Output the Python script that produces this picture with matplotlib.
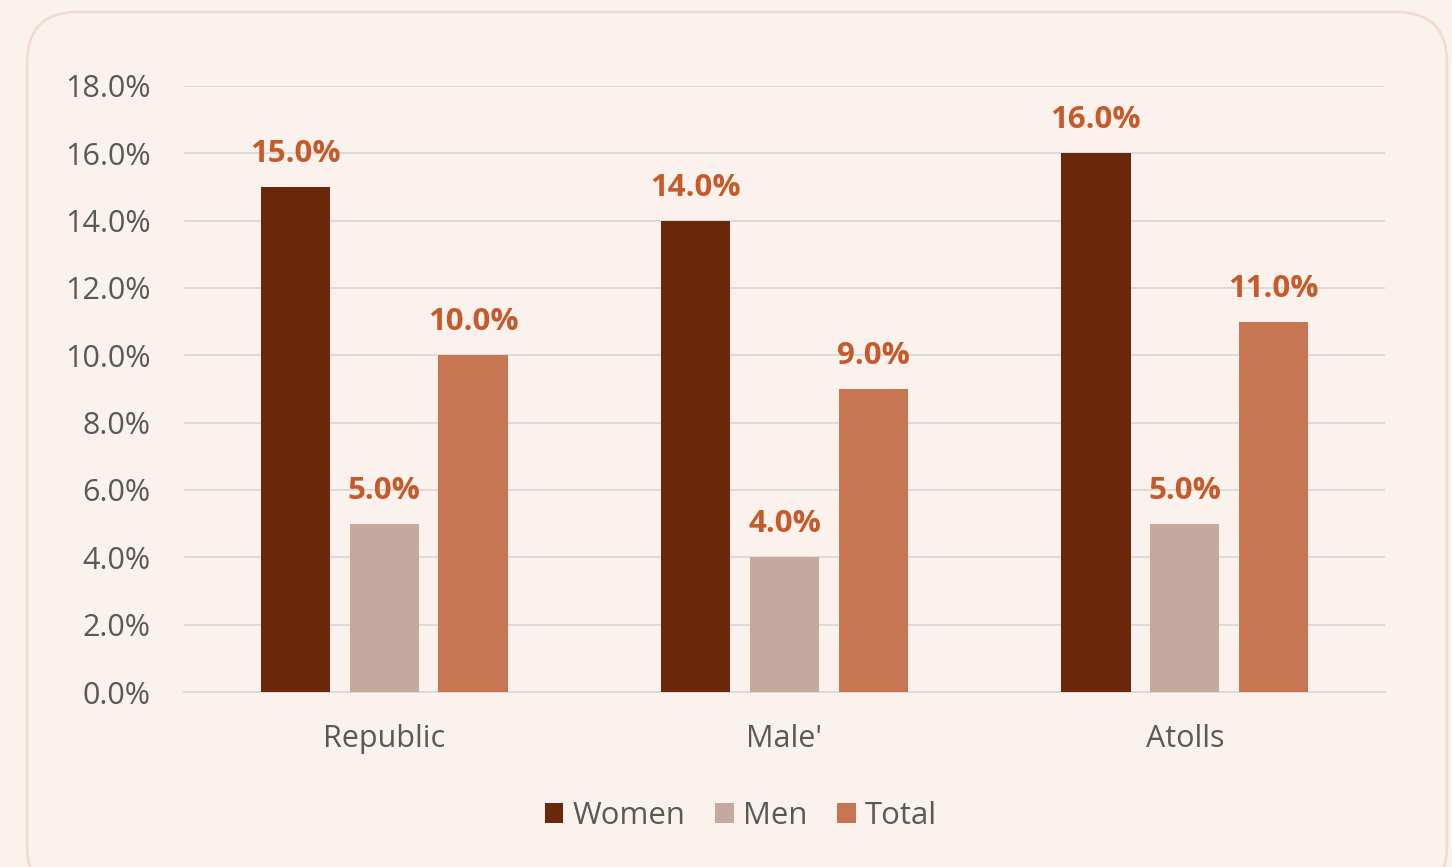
import matplotlib
matplotlib.use("Agg")
import matplotlib.pyplot as plt
from matplotlib.patches import FancyBboxPatch
import numpy as np

categories = ["Republic", "Male'", "Atolls"]
series_names = ["Women", "Men", "Total"]
women = [15.0, 14.0, 16.0]
men = [5.0, 4.0, 5.0]
total = [10.0, 9.0, 11.0]
colors = ["#6B290C", "#C6A99E", "#C87552"]
yticks = [0, 2, 4, 6, 8, 10, 12, 14, 16, 18]

plt.rcParams['font.family'] = ['Open Sans', 'DejaVu Sans']
bg = "#FBF2EE"
fig = plt.figure(figsize=(14.52, 8.67), dpi=100)
fig.patch.set_facecolor(bg)

# rounded border
W, H = 1452, 867
box = FancyBboxPatch((27 / W, -30 / H), (1447 - 27) / W, (855 + 30) / H,
                     boxstyle="round,pad=0,rounding_size=0.035",
                     transform=fig.transFigure, facecolor=bg,
                     edgecolor="#F0DCD2", linewidth=2, zorder=-5,
                     mutation_aspect=W / H)
fig.patches.append(box)

ax = fig.add_axes([184 / W, 1 - 692 / H, (1385 - 184) / W, (692 - 86) / H])
ax.set_facecolor("none")
ax.set_zorder(2)

x = np.arange(len(categories))
bw = 0.173
step = 0.222
data = [women, men, total]
for i, (vals, name, c) in enumerate(zip(data, series_names, colors)):
    pos = x + (i - 1) * step
    ax.bar(pos, vals, width=bw, color=c, label=name, zorder=3)
    for p, v in zip(pos, vals):
        ax.annotate(f"{v:.1f}%", (p, v), xytext=(0, 18), textcoords="offset points",
                    ha="center", va="baseline", fontsize=22.5, fontweight="bold",
                    color="#C55A2B", zorder=4)

ax.set_xlim(-0.5, 2.5)
ax.set_ylim(0, 18)
ax.set_yticks(yticks)
ax.set_yticklabels([f"{t:.1f}%" for t in yticks], fontsize=22, color="#595959")
ax.set_xticks(x)
ax.set_xticklabels(categories, fontsize=22, color="#595959")
ax.tick_params(axis="both", length=0)
ax.tick_params(axis="y", pad=24)
ax.tick_params(axis="x", pad=23)
ax.yaxis.grid(True, color="#D9D9D9", linewidth=1.3, zorder=0)
for s in ["top", "right", "left"]:
    ax.spines[s].set_visible(False)
ax.spines["bottom"].set_color("#D9D9D9")
ax.spines["bottom"].set_linewidth(1.3)

leg = fig.legend(loc="center", bbox_to_anchor=(741 / W, 1 - 816 / H), ncol=3,
                 frameon=False, fontsize=22.4, handlelength=0.6, handleheight=0.6,
                 handletextpad=0.3, columnspacing=0.95)
for t in leg.get_texts():
    t.set_color("#595959")

fig.savefig("out.png", dpi=100, facecolor=bg)
